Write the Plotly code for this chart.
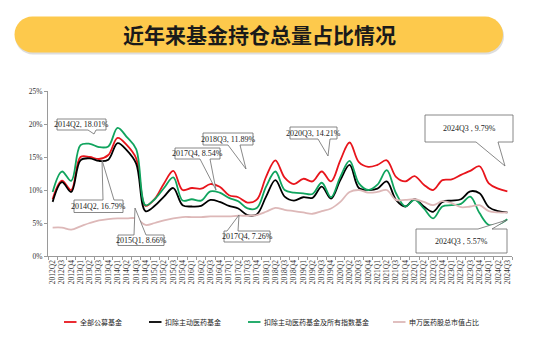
import plotly.graph_objects as go

# ---------------- data ----------------
quarters = []
for yr in range(2012, 2025):
    for q in range(1, 5):
        if (yr == 2012 and q < 2) or (yr == 2024 and q > 3):
            continue
        quarters.append(f"{yr}Q{q}")

all_funds = [8.6, 11.4, 10.0, 15.0, 15.0, 14.7, 15.3, 17.9, 16.79, 14.8,
             7.6, 8.66, 11.0, 12.9, 10.0, 10.3, 10.2, 10.9, 10.5, 9.2,
             8.9, 8.1, 8.54, 12.0, 14.5, 11.89, 10.9, 11.7, 11.3, 12.8,
             11.3, 14.5, 17.2, 14.21, 13.5, 13.8, 14.5, 12.0, 11.3, 12.1,
             10.8, 10.0, 11.5, 11.6, 12.3, 12.9, 13.6, 11.0, 10.2, 9.79]
ex_active = [8.2, 11.2, 9.7, 14.5, 14.8, 14.4, 14.6, 17.1, 16.0, 14.0,
             6.8, 7.6, 9.0, 10.3, 7.7, 7.5, 7.6, 8.5, 8.2, 7.6,
             7.2, 6.2, 6.3, 9.0, 11.5, 9.0, 8.4, 8.9, 8.8, 10.5,
             8.7, 11.5, 13.8, 10.3, 10.0, 10.2, 11.3, 8.5, 7.5, 8.6,
             7.5, 6.7, 8.2, 8.4, 8.6, 9.8, 9.5, 7.4, 6.8, 6.6]
ex_active_index = [9.7, 12.8, 11.4, 16.8, 17.0, 16.5, 16.6, 19.4, 18.01, 16.2,
                   7.7, 8.6, 10.3, 11.9, 8.4, 8.6, 8.4, 9.8, 9.6, 8.8,
                   8.3, 7.2, 7.26, 10.5, 12.8, 10.0, 9.6, 9.5, 9.4, 11.1,
                   8.9, 12.0, 14.4, 11.0, 10.0, 10.8, 13.0, 9.5, 7.5, 8.5,
                   7.2, 5.7, 7.5, 7.7, 7.9, 9.0, 6.5, 4.7, 4.8, 5.57]
sw_pharma = [4.3, 4.3, 4.0, 4.5, 5.0, 5.4, 5.6, 5.7, 5.7, 5.7,
             4.7, 5.0, 5.4, 5.7, 5.9, 5.9, 5.9, 6.0, 6.0, 6.0,
             6.1, 6.1, 6.2, 6.7, 7.3, 7.0, 6.8, 6.6, 6.4, 6.8,
             7.2, 8.2, 9.7, 10.0, 9.6, 9.7, 10.0, 8.5, 8.5, 8.6,
             8.2, 7.7, 8.3, 8.0, 7.4, 7.5, 7.7, 6.8, 6.6, 6.6]

series_names = ["全部公募基金", "扣除主动医药基金", "扣除主动医药基金及所有指数基金", "申万医药股总市值占比"]
series_values = [all_funds, ex_active, ex_active_index, sw_pharma]
series_colors = ["#E8151C", "#000000", "#10A45E", "#DDB8B8"]

y_ticks = [0, 5, 10, 15, 20, 25]
title_text = "近年来基金持仓总量占比情况"

callouts = [  # text, box (x0,y0,x1,y1) px, tip px, wedge base x px (b1,b2), base side
    ("2014Q2, 18.01%", (57, 119, 106, 130), (94, 134), (88, 96), "bottom"),
    ("2014Q2, 16.79%", (74, 200, 123, 212.5), (102, 160), (103, 114), "top"),
    ("2015Q1, 8.66%", (118, 235, 164, 245.5), (135, 208), (134, 146), "top"),
    ("2017Q4, 8.54%", (175, 148, 220, 159), (216, 190), (200, 210), "bottom"),
    ("2018Q3, 11.89%", (203, 133, 253, 145), (246, 169), (228, 240), "bottom"),
    ("2020Q3, 14.21%", (290, 127, 337, 139), (328, 156), (318, 330), "bottom"),
    ("2017Q4, 7.26%", (224, 231, 270, 242), (239, 215), (227, 238), "top"),
    ("2024Q3 , 9.79%", (425, 115, 513, 142), (505, 166), (476, 498), "bottom"),
    ("2024Q3 , 5.57%", (416, 229, 507, 253), (507, 220), (478, 492), "top"),
]

# ---------------- layout geometry ----------------
WIDTH, HEIGHT = 538, 345
L, R, T, B = 48, 26, 91, 89
PW, PH = WIDTH - L - R, HEIGHT - T - B


def px(x):
    return (x - L) / PW


def py(y):
    return (HEIGHT - B - y) / PH


fig = go.Figure()
for name, vals, col in zip(series_names, series_values, series_colors):
    fig.add_trace(go.Scatter(
        x=quarters, y=vals, name=name, mode="lines",
        line=dict(color=col, width=1.8, shape="spline", smoothing=1.0),
        showlegend=False, hoverinfo="x+y+name",
    ))

shapes = []
annotations = []

# title pill with shadow
def pill(x0, y0, x1, y1, color):
    r = (y1 - y0) / 2
    k = 0.5523 * r
    path = (f"M {px(x0 + r)},{py(y0)} L {px(x1 - r)},{py(y0)} "
            f"C {px(x1 - r + k)},{py(y0)} {px(x1)},{py(y0 + r - k)} {px(x1)},{py(y0 + r)} "
            f"C {px(x1)},{py(y0 + r + k)} {px(x1 - r + k)},{py(y1)} {px(x1 - r)},{py(y1)} "
            f"L {px(x0 + r)},{py(y1)} "
            f"C {px(x0 + r - k)},{py(y1)} {px(x0)},{py(y0 + r + k)} {px(x0)},{py(y0 + r)} "
            f"C {px(x0)},{py(y0 + r - k)} {px(x0 + r - k)},{py(y0)} {px(x0 + r)},{py(y0)} Z")
    return dict(type="path", xref="paper", yref="paper", path=path,
                fillcolor=color, line=dict(width=0), layer="above")

shapes.append(pill(15, 18, 504, 54.5, "rgba(120,120,120,0.25)"))
shapes.append(pill(14.5, 16.5, 503, 52.5, "#FDC94C"))
annotations.append(dict(
    text=f"<b>{title_text}</b>", xref="paper", yref="paper",
    x=px(259), y=py(34.5), xanchor="center", yanchor="middle", showarrow=False,
    font=dict(family="Noto Sans CJK SC", size=21, color="#1a1a1a"),
))

# callouts
for text, (x0, y0, x1, y1), (tx, ty), (b1, b2), side in callouts:
    if side == "bottom":
        path = (f"M {px(x0)},{py(y0)} L {px(x1)},{py(y0)} L {px(x1)},{py(y1)} "
                f"L {px(b2)},{py(y1)} L {px(tx)},{py(ty)} L {px(b1)},{py(y1)} "
                f"L {px(x0)},{py(y1)} Z")
    else:
        path = (f"M {px(x0)},{py(y0)} L {px(b1)},{py(y0)} L {px(tx)},{py(ty)} "
                f"L {px(b2)},{py(y0)} L {px(x1)},{py(y0)} L {px(x1)},{py(y1)} "
                f"L {px(x0)},{py(y1)} Z")
    shapes.append(dict(type="path", xref="paper", yref="paper", path=path,
                       fillcolor="white", line=dict(color="#6b6b6b", width=0.8),
                       layer="above"))
    annotations.append(dict(
        text=text, xref="paper", yref="paper",
        x=px((x0 + x1) / 2), y=py((y0 + y1) / 2), xanchor="center", yanchor="middle",
        showarrow=False, font=dict(family="Liberation Serif", size=8, color="#222"),
    ))

# manual legend
leg_y = 322
leg_x = [64, 149, 248, 393]
for name, col, lx in zip(series_names, series_colors, leg_x):
    shapes.append(dict(type="line", xref="paper", yref="paper",
                       x0=px(lx), x1=px(lx + 12.5), y0=py(leg_y), y1=py(leg_y),
                       line=dict(color=col, width=1.8)))
    annotations.append(dict(
        text=name, xref="paper", yref="paper", x=px(lx + 13.5), y=py(leg_y),
        xanchor="left", yanchor="middle", showarrow=False,
        font=dict(family="Noto Sans CJK SC", size=7, color="#222"),
    ))

fig.update_layout(
    width=WIDTH, height=HEIGHT,
    margin=dict(l=L, r=R, t=T, b=B, pad=0),
    paper_bgcolor="white", plot_bgcolor="white",
    shapes=shapes, annotations=annotations,
    showlegend=False,
    xaxis=dict(
        type="category", range=[-0.5, len(quarters) - 0.5],
        tickangle=-90, tickfont=dict(family="Liberation Serif", size=7.5, color="#333"),
        showline=True, linecolor="#9a9a9a", linewidth=1,
        ticks="outside", ticklen=3, tickcolor="#9a9a9a", tickson="boundaries",
        showgrid=False, zeroline=False, fixedrange=True,
    ),
    yaxis=dict(
        range=[0, 25], tickvals=y_ticks, ticktext=[f"{v}%" for v in y_ticks],
        tickfont=dict(family="Liberation Serif", size=7.5, color="#333"),
        showline=True, linecolor="#9a9a9a", linewidth=1,
        ticks="outside", ticklen=3, tickcolor="#9a9a9a",
        showgrid=False, zeroline=False, fixedrange=True,
    ),
)

fig.write_html("out.html")
